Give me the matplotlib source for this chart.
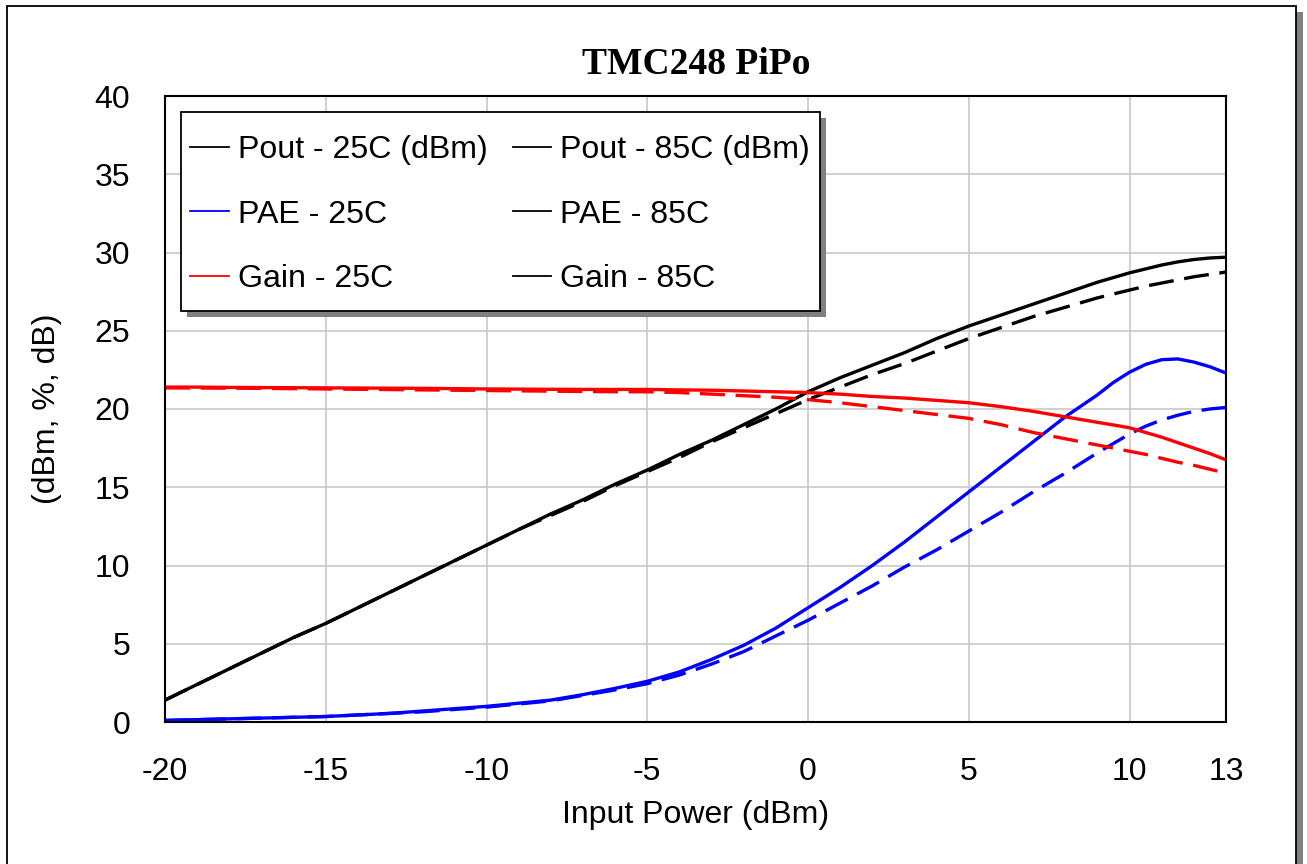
import matplotlib
matplotlib.use("Agg")
import matplotlib.pyplot as plt
from matplotlib.lines import Line2D
from matplotlib.patches import Rectangle

plt.rcParams['font.family'] = ['Liberation Sans', 'DejaVu Sans']

# input power sweep (dBm)
pin = [-20, -19, -18, -17, -16, -15, -14, -13, -12, -11, -10, -9, -8, -7, -6,
       -5, -4, -3, -2, -1, 0, 1, 2, 3, 4, 5, 6, 7, 8, 9,
       9.5, 10, 10.5, 11, 11.5, 12, 12.5, 13]

pout_25 = [1.4, 2.4, 3.4, 4.4, 5.4, 6.3, 7.3, 8.3, 9.3, 10.3, 11.3, 12.3, 13.3, 14.2, 15.2,
           16.1, 17.1, 18.0, 19.0, 20.0, 21.1, 22.0, 22.8, 23.6, 24.5, 25.3, 26.0, 26.7, 27.4, 28.1,
           28.4, 28.7, 28.95, 29.2, 29.4, 29.55, 29.65, 29.7]
pout_85 = [1.4, 2.4, 3.4, 4.4, 5.4, 6.3, 7.3, 8.3, 9.3, 10.3, 11.3, 12.3, 13.2, 14.1, 15.1,
           16.0, 16.9, 17.9, 18.8, 19.7, 20.6, 21.4, 22.2, 22.9, 23.7, 24.5, 25.2, 25.9, 26.5, 27.1,
           27.35, 27.6, 27.85, 28.05, 28.25, 28.45, 28.6, 28.75]
pae_25 = [0.1, 0.15, 0.2, 0.25, 0.3, 0.35, 0.45, 0.55, 0.7, 0.85, 1.0, 1.2, 1.4, 1.75, 2.15,
          2.6, 3.2, 4.0, 4.9, 6.0, 7.3, 8.6, 10.0, 11.5, 13.1, 14.7, 16.3, 17.9, 19.5, 20.9,
          21.7, 22.35, 22.85, 23.15, 23.2, 23.0, 22.7, 22.3]
pae_85 = [0.1, 0.15, 0.2, 0.25, 0.3, 0.35, 0.45, 0.55, 0.65, 0.8, 0.95, 1.15, 1.35, 1.7, 2.05,
          2.45, 3.0, 3.7, 4.5, 5.5, 6.5, 7.6, 8.7, 9.9, 11.0, 12.2, 13.4, 14.7, 15.9, 17.2,
          17.8, 18.4, 18.9, 19.3, 19.6, 19.85, 20.0, 20.1]
gain_25 = [21.4, 21.4, 21.38, 21.37, 21.36, 21.35, 21.34, 21.33, 21.32, 21.3, 21.28, 21.27, 21.26, 21.25, 21.25,
           21.25, 21.22, 21.2, 21.15, 21.1, 21.05, 20.95, 20.8, 20.7, 20.55, 20.4, 20.15, 19.85, 19.5, 19.15,
           18.98, 18.8, 18.5, 18.2, 17.85, 17.5, 17.15, 16.75]
gain_85 = [21.35, 21.34, 21.33, 21.32, 21.3, 21.28, 21.26, 21.24, 21.22, 21.2, 21.18, 21.16, 21.14, 21.12, 21.1,
           21.1, 21.05, 20.95, 20.85, 20.75, 20.6, 20.4, 20.15, 19.9, 19.65, 19.4, 19.0, 18.5, 18.1, 17.7,
           17.5, 17.3, 17.1, 16.85, 16.6, 16.4, 16.15, 15.9]

x_ticks = [-20, -15, -10, -5, 0, 5, 10, 13]
y_ticks = [0, 5, 10, 15, 20, 25, 30, 35, 40]

W, H = 1307, 864
fig = plt.figure(figsize=(W / 100, H / 100), dpi=100)
fig.patch.set_facecolor('white')

# outer frame with drop shadow
fig.add_artist(Rectangle((13 / W, -0.05), 1290 / W, 1 - 12 / H + 0.05, transform=fig.transFigure,
                         facecolor='#808080', edgecolor='none', zorder=-3))
fig.add_artist(Rectangle((7 / W, -0.05), 1289 / W, 1 - 6 / H + 0.05, transform=fig.transFigure,
                         facecolor='white', edgecolor='black', linewidth=1.3, zorder=-2))

AW, AH = 1061, 626
ax = fig.add_axes([165 / W, 1 - 722 / H, AW / W, AH / H])
ax.set_facecolor('white')

lw = 2.4
dash = (7.5, 3.2)
ax.plot(pin, pout_25, color='black', lw=lw)
ax.plot(pin, pout_85, color='black', lw=lw, dashes=dash)
ax.plot(pin, pae_25, color='#0000ff', lw=lw)
ax.plot(pin, pae_85, color='#0000ff', lw=lw, dashes=dash)
ax.plot(pin, gain_25, color='#ff0000', lw=lw)
ax.plot(pin, gain_85, color='#ff0000', lw=lw, dashes=dash)

ax.set_xlim(-20, 13)
ax.set_ylim(0, 40)
ax.set_xticks(x_ticks)
ax.set_yticks(y_ticks)
ax.set_xticklabels([str(t) for t in x_ticks])
ax.tick_params(length=0, labelsize=23, pad=25)
ax.grid(True, color='#c8c8c8', lw=1.2)
ax.set_axisbelow(True)
for s in ax.spines.values():
    s.set_color('black')
    s.set_linewidth(1.5)

ax.set_xlabel('Input Power (dBm)', fontsize=23)
ax.xaxis.set_label_coords(0.5, -0.125)
ax.set_ylabel('(dBm, %, dB)', fontsize=23, va='center')
ax.yaxis.set_label_coords(-0.111, 0.5)

fig.text(696 / W, 1 - 65 / H, 'TMC248 PiPo', ha='center', va='center',
         fontfamily='Liberation Serif', fontweight='bold', fontsize=27)

# legend box with shadow, drawn as its own patches
lx0, ly0, lw_box, lh_box = 181 - 165, 722 - 311, 639, 199
ax.add_patch(Rectangle(((lx0 + 6) / AW, (ly0 - 6) / AH), lw_box / AW, lh_box / AH,
                       transform=ax.transAxes, facecolor='#808080', edgecolor='none', zorder=4))
ax.add_patch(Rectangle((lx0 / AW, ly0 / AH), lw_box / AW, lh_box / AH,
                       transform=ax.transAxes, facecolor='white', edgecolor='black',
                       linewidth=1.3, zorder=4.5))

# legend as drawn in the original (85C handles shown solid black)
labels = ['Pout - 25C (dBm)', 'PAE - 25C', 'Gain - 25C',
          'Pout - 85C (dBm)', 'PAE - 85C', 'Gain - 85C']
handle_colors = ['black', '#0000ff', '#ff0000', 'black', 'black', 'black']
handles = [Line2D([], [], color=c, lw=1.3) for c in handle_colors]
leg = ax.legend(handles, labels, ncol=2, loc='upper left',
                bbox_to_anchor=((190 - 165) / AW, (722 - 135) / AH), borderaxespad=0,
                fontsize=23.1, handlelength=1.21, handletextpad=0.28, columnspacing=0.78,
                labelspacing=1.08, borderpad=0, frameon=False)
leg.set_zorder(5)

fig.savefig('out.png', dpi=100)
